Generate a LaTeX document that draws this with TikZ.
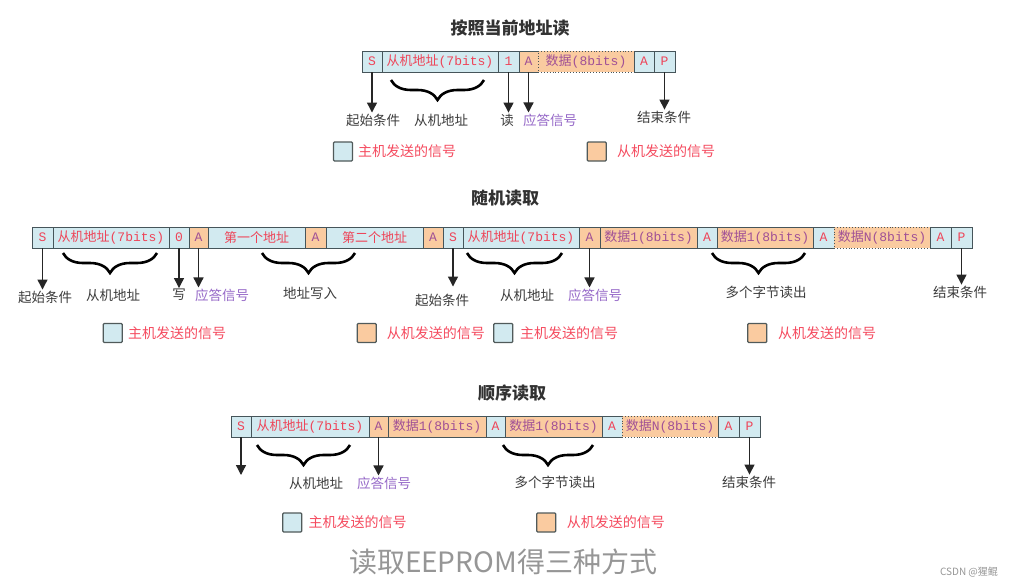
\documentclass[tikz,border=0pt]{standalone}
\usepackage{fontspec}
\setmainfont{Noto Sans CJK SC}
\newfontfamily\cellmono{Liberation Mono}
\usetikzlibrary{arrows.meta,decorations.pathreplacing}
\definecolor{hostfill}{RGB}{210,234,240}
\definecolor{slavefill}{RGB}{250,203,160}
\definecolor{cellline}{RGB}{70,85,90}
\definecolor{hosttxt}{RGB}{238,68,88}
\definecolor{slavetxt}{RGB}{160,80,150}
\definecolor{acktxt}{RGB}{150,105,200}
\definecolor{labeltxt}{RGB}{60,60,60}
\definecolor{titletxt}{RGB}{50,50,50}
\definecolor{keyline}{RGB}{80,90,90}
\definecolor{legendtxt}{RGB}{245,75,95}
\definecolor{captiontxt}{RGB}{150,150,150}

\begin{document}
\begin{tikzpicture}[x=1pt,y=-1pt,
        cell/.style={draw=cellline, line width=.9pt, minimum height=21pt, inner sep=0pt,
            font=\fontsize{13}{15}\selectfont},
        mcell/.style={cell, fill=hostfill, text=hosttxt},
        scell/.style={cell, fill=slavefill, text=slavetxt},
        dcell/.style={scell, dotted},
        lbl/.style={inner sep=1pt, text=labeltxt, font=\fontsize{13.5}{15}\selectfont},
        ack/.style={lbl, text=acktxt},
        ttl/.style={text=titletxt, font=\fontsize{17}{20}\selectfont\bfseries},
        key/.style={draw=keyline, line width=1.2pt, minimum size=19pt, inner sep=0pt, rounded corners=1pt},
        keytxt/.style={anchor=west, inner sep=0pt, text=legendtxt, font=\fontsize{14}{16}\selectfont},
        arr/.style={-{Triangle[width=10pt,length=10pt]}, line width=1.3pt, draw=black!85},
        brc/.style={decorate, decoration={brace, mirror, amplitude=20pt}, line width=2.6pt}]
            \useasboundingbox[fill=white] (0,0) rectangle (1018,587);

            % 按照当前地址读
            \node[ttl] (title1) at (510,28) {按照当前地址读};
            \foreach \nm/\xa/\xb/\st/\tx in {s1/362/382/mcell/{\cellmono S},
                    ad1/382/498/mcell/{从机地址\cellmono(7bits)}, rd1/498/519/mcell/{\cellmono 1},
                    a1/519/538/scell/{\cellmono A}, d1/538/634/dcell/{数据\cellmono(8bits)},
                    a1b/634/654/mcell/{\cellmono A}, p1/654/675/mcell/{\cellmono P}}
                \node[\st, minimum width={(\xb-\xa)*1pt}] (\nm) at ({(\xa+\xb)/2},61.5) {\tx};
            \node[lbl] (start1) at (373,120) {起始条件};
            \node[lbl] (addr1) at (441,120) {从机地址};
            \node[lbl] (rdl1) at (507,120) {读};
            \node[ack] (ack1) at (550,120) {应答信号};
            \node[lbl] (stop1) at (664,117) {结束条件};
            \draw[arr] (s1.south) -- (s1.south |- start1.north);
            \draw[arr] (rd1.south) -- (rd1.south |- rdl1.north);
            \draw[arr] (a1.south) -- (a1.south |- ack1.north);
            \draw[arr] (p1.south) -- (p1.south |- stop1.north);
            \draw[brc] (391,80) -- (484,80);
            \node[key, fill=hostfill] (hk1) at (343,151.5) {};
            \node[keytxt] (ht1) at (358,151.5) {主机发送的信号};
            \node[key, fill=slavefill] (sk1) at (596.7,151.5) {};
            \node[keytxt] (st1) at (617,151.5) {从机发送的信号};

            % 随机读取
            \node[ttl] (title2) at (505,198) {随机读取};
            \foreach \nm/\xa/\xb/\st/\tx in {s2/32/53/mcell/{\cellmono S},
                    ad2/53/169/mcell/{从机地址\cellmono(7bits)}, wr2/169/189/mcell/{\cellmono 0},
                    a2/189/208/scell/{\cellmono A}, fa2/208/305/mcell/{第一个地址},
                    a2b/305/326/scell/{\cellmono A}, sa2/326/423/mcell/{第二个地址},
                    a2c/423/443/scell/{\cellmono A}, s2b/443/463/mcell/{\cellmono S},
                    ad2b/463/579/mcell/{从机地址\cellmono(7bits)}, a2d/579/600/scell/{\cellmono A},
                    d2/600/697/scell/{数据\cellmono 1(8bits)}, a2e/697/717/mcell/{\cellmono A},
                    d2b/717/813/scell/{数据\cellmono 1(8bits)}, a2f/813/834/mcell/{\cellmono A},
                    dn2/834/930/dcell/{数据\cellmono N(8bits)}, a2g/930/951/mcell/{\cellmono A},
                    p2/951/972/mcell/{\cellmono P}}
                \node[\st, minimum width={(\xb-\xa)*1pt}] (\nm) at ({(\xa+\xb)/2},237.5) {\tx};
            \node[lbl] (start2) at (45,297) {起始条件};
            \node[lbl] (addr2) at (113,295) {从机地址};
            \node[lbl] (wrl2) at (179,295) {写};
            \node[ack] (ack2) at (222,295) {应答信号};
            \node[lbl] (waddr2) at (310,293) {地址写入};
            \node[lbl] (start2b) at (442,300) {起始条件};
            \node[lbl] (addr2b) at (527,295) {从机地址};
            \node[ack] (ack2b) at (595,295) {应答信号};
            \node[lbl] (multi2) at (766,292) {多个字节读出};
            \node[lbl] (stop2) at (960,292) {结束条件};
            \draw[arr] (s2.south) -- (s2.south |- start2.north);
            \draw[arr] (wr2.south) -- (wr2.south |- wrl2.north);
            \draw[arr] (a2.south) -- (a2.south |- ack2.north);
            \draw[arr, shorten >=6pt] (s2b.south) -- (s2b.south |- start2b.north);
            \draw[arr] (a2d.south) -- (a2d.south |- ack2b.north);
            \draw[arr] (p2.south) -- (p2.south |- stop2.north);
            \draw[brc] (63,253) -- (157,253);
            \draw[brc] (262,253) -- (355,253);
            \draw[brc] (467,253) -- (562,253);
            \draw[brc] (712,253) -- (805,253);
            \node[key, fill=hostfill] (hk2) at (112.7,333) {};
            \node[keytxt] (ht2) at (128,333) {主机发送的信号};
            \node[key, fill=slavefill] (sk2) at (366.7,333) {};
            \node[keytxt] (st2) at (386.7,333) {从机发送的信号};
            \node[key, fill=hostfill] (hk2b) at (503.3,333) {};
            \node[keytxt] (ht2b) at (520,333) {主机发送的信号};
            \node[key, fill=slavefill] (sk2b) at (757.3,333) {};
            \node[keytxt] (st2b) at (778,333) {从机发送的信号};

            % 顺序读取
            \node[ttl] (title3) at (512,393) {顺序读取};
            \foreach \nm/\xa/\xb/\st/\tx in {s3/231/251/mcell/{\cellmono S},
                    ad3/251/369/mcell/{从机地址\cellmono(7bits)}, a3/369/388/scell/{\cellmono A},
                    d3/388/486/scell/{数据\cellmono 1(8bits)}, a3b/486/505/mcell/{\cellmono A},
                    d3b/505/602/scell/{数据\cellmono 1(8bits)}, a3c/602/622/mcell/{\cellmono A},
                    dn3/622/718/dcell/{数据\cellmono N(8bits)}, a3d/718/739/mcell/{\cellmono A},
                    p3/739/760/mcell/{\cellmono P}}
                \node[\st, minimum width={(\xb-\xa)*1pt}] (\nm) at ({(\xa+\xb)/2},426.5) {\tx};
            \coordinate (end3) at (241,475);
            \node[lbl] (addr3) at (316,483) {从机地址};
            \node[ack] (ack3) at (384,483) {应答信号};
            \node[lbl] (multi3) at (555,482) {多个字节读出};
            \node[lbl] (stop3) at (749,482) {结束条件};
            \draw[arr] (s3.south) -- (end3);
            \draw[arr] (a3.south) -- (a3.south |- ack3.north);
            \draw[arr] (p3.south) -- (p3.south |- stop3.north);
            \draw[brc] (257,445) -- (350,445);
            \draw[brc] (503,445) -- (593,445);
            \node[key, fill=hostfill] (hk3) at (292.2,522.5) {};
            \node[keytxt] (ht3) at (308.3,522.5) {主机发送的信号};
            \node[key, fill=slavefill] (sk3) at (546.2,522.5) {};
            \node[keytxt] (st3) at (566.7,522.5) {从机发送的信号};

            \node[text=captiontxt, font=\fontsize{28}{32}\selectfont] (caption) at (503,562) {读取EEPROM得三种方式};
            \node[text=captiontxt, font=\fontsize{10}{12}\selectfont] (mark) at (969,572) {CSDN @猩鲲};
        \end{tikzpicture}
\end{document}
